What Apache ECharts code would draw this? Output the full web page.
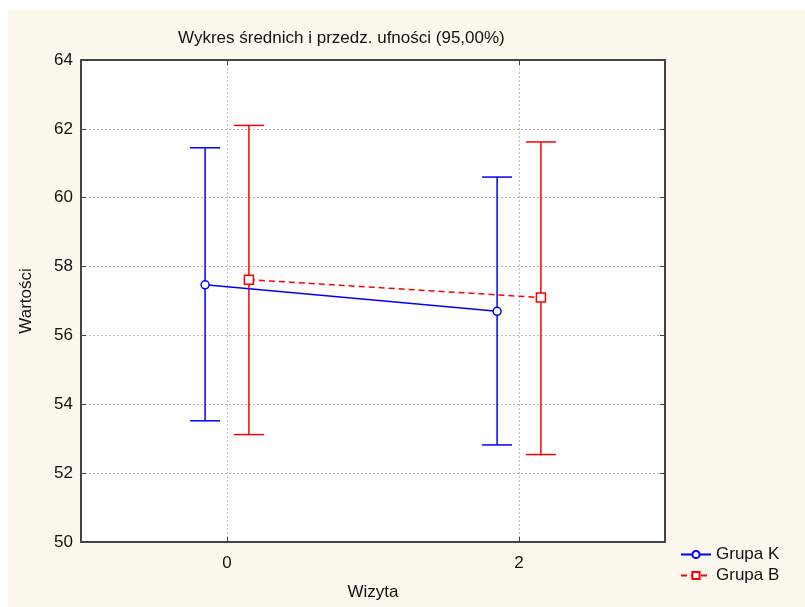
<!DOCTYPE html>
<html>
<head>
<meta charset="utf-8">
<script src="https://cdn.jsdelivr.net/npm/echarts@6/dist/echarts.min.js"></script>
<style>
  html, body { margin: 0; padding: 0; background: #ffffff; }
  #chart { position: absolute; left: 8px; top: 10px; width: 797px; height: 597px; background: #fdf8ee; }
</style>
</head>
<body>
<div id="chart"></div>
<script>
// dane
const visits = [0, 2];
const xTicks = [0, 2];
const grupaKMean = [57.47, 56.70];
const grupaKLow = [53.52, 52.82];
const grupaKHigh = [61.45, 60.60];
const grupaBMean = [57.62, 57.10];
const grupaBLow = [53.12, 52.54];
const grupaBHigh = [62.10, 61.62];

const SHIFT = 0.15; // przesunięcie grup względem wizyty
const FONT = "Liberation Sans, Arial, sans-serif";
const BLUE = "#0000ff";
const RED = "#ff0000";

const chart = echarts.init(document.getElementById("chart"));

function errorBars(color) {
  return (params, api) => {
    const x = api.value(0);
    const lo = api.coord([x, api.value(1)]);
    const hi = api.coord([x, api.value(2)]);
    const hw = 15;
    const style = { stroke: color, lineWidth: 1.5 };
    return {
      type: "group",
      children: [
        { type: "line", shape: { x1: hi[0], y1: hi[1], x2: lo[0], y2: lo[1] }, style },
        { type: "line", shape: { x1: hi[0] - hw, y1: hi[1], x2: hi[0] + hw, y2: hi[1] }, style },
        { type: "line", shape: { x1: lo[0] - hw, y1: lo[1], x2: lo[0] + hw, y2: lo[1] }, style },
      ],
    };
  };
}

const axisLine = { show: true, onZero: false, lineStyle: { color: "#444", width: 2 } };
const tick = { show: true, inside: true, length: 5, lineStyle: { color: "#444", width: 1 } };
const split = { show: true, lineStyle: { color: "#bbb", type: [2, 2], width: 1 } };
const labelStyle = { color: "#111", fontSize: 17, fontFamily: FONT };

chart.setOption({
  animation: false,
  title: {
    text: "Wykres średnich i przedz. ufności (95,00%)",
    left: 165,
    top: 15,
    textStyle: { color: "#111", fontSize: 17, fontWeight: "normal", fontFamily: FONT },
  },
  legend: {
    orient: "vertical",
    left: 667,
    top: 531,
    itemWidth: 30,
    itemHeight: 9,
    itemGap: 4,
    textStyle: { color: "#111", fontSize: 17, fontFamily: FONT },
    data: ["Grupa K", "Grupa B"],
  },
  grid: { left: 73, right: 140, top: 50, bottom: 65, show: true, backgroundColor: "#ffffff", borderWidth: 0 },
  xAxis: [{
    type: "value",
    min: -1,
    max: 3,
    name: "Wizyta",
    nameLocation: "middle",
    nameGap: 42,
    nameTextStyle: labelStyle,
    axisLine: axisLine,
    axisTick: Object.assign({ customValues: xTicks }, tick),
    axisLabel: Object.assign({ customValues: xTicks, margin: 13 }, labelStyle),
    splitLine: split,
  }, {
    type: "value",
    position: "top",
    min: -1,
    max: 3,
    axisLine: axisLine,
    axisTick: Object.assign({ customValues: xTicks }, tick),
    axisLabel: { show: false },
    splitLine: { show: false },
  }],
  yAxis: [{
    type: "value",
    min: 50,
    max: 64,
    interval: 2,
    name: "Wartości",
    nameLocation: "middle",
    nameGap: 46,
    nameTextStyle: labelStyle,
    axisLine: axisLine,
    axisTick: tick,
    axisLabel: Object.assign({ margin: 8 }, labelStyle),
    splitLine: split,
  }, {
    type: "value",
    position: "right",
    min: 50,
    max: 64,
    interval: 2,
    axisLine: axisLine,
    axisTick: tick,
    axisLabel: { show: false },
    splitLine: { show: false },
  }],
  series: [
    {
      name: "Grupa K",
      type: "line",
      data: visits.map((v, i) => [v - SHIFT, grupaKMean[i]]),
      symbol: "circle",
      symbolSize: 8,
      lineStyle: { color: BLUE, width: 1.5 },
      itemStyle: { color: "#ffffff", borderColor: BLUE, borderWidth: 1.5 },
      z: 3,
    },
    {
      name: "Grupa B",
      type: "line",
      data: visits.map((v, i) => [v + SHIFT, grupaBMean[i]]),
      symbol: "rect",
      symbolSize: 9,
      lineStyle: { color: RED, width: 1.5, type: [6, 4] },
      itemStyle: { color: "#ffffff", borderColor: RED, borderWidth: 1.5 },
      z: 3,
    },
    {
      name: "Grupa K",
      type: "custom",
      renderItem: errorBars(BLUE),
      encode: { x: 0, y: [1, 2] },
      data: visits.map((v, i) => [v - SHIFT, grupaKLow[i], grupaKHigh[i]]),
      z: 1,
    },
    {
      name: "Grupa B",
      type: "custom",
      renderItem: errorBars(RED),
      encode: { x: 0, y: [1, 2] },
      data: visits.map((v, i) => [v + SHIFT, grupaBLow[i], grupaBHigh[i]]),
      z: 1,
    },
  ],
});
</script>
</body>
</html>
